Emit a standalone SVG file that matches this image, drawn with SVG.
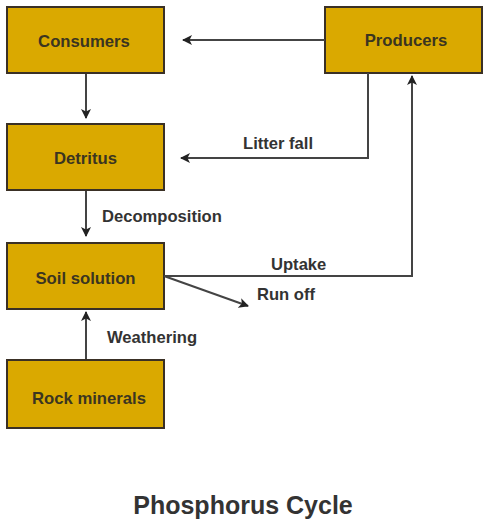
<svg xmlns="http://www.w3.org/2000/svg" width="487" height="521" viewBox="0 0 487 521">
<style>
.box{fill:#DAA900;stroke:#3a3025;stroke-width:2}
.bt{font-family:"Liberation Sans",Arial,sans-serif;font-weight:bold;font-size:16.7px;fill:#3b3520;text-anchor:middle}
.lb{font-family:"Liberation Sans",Arial,sans-serif;font-weight:bold;font-size:16.6px;fill:#333}
.ln{fill:none;stroke:#444;stroke-width:2}
</style>
<defs>
<marker id="ah" markerWidth="10" markerHeight="10" refX="9" refY="5" orient="auto" markerUnits="userSpaceOnUse">
<path d="M0,0 L10,5 L0,10 L2.5,5 Z" fill="#222"/>
</marker>
</defs>
<rect width="487" height="521" fill="#fff"/>
<g id="consumers"><rect class="box" x="7" y="7" width="157" height="66"/><text class="bt" x="84" y="47">Consumers</text></g>
<g id="producers"><rect class="box" x="325" y="7" width="157" height="66"/><text class="bt" x="406" y="46">Producers</text></g>
<g id="detritus"><rect class="box" x="7" y="124" width="157" height="66"/><text class="bt" x="85.5" y="164">Detritus</text></g>
<g id="soil"><rect class="box" x="7" y="243" width="157" height="66"/><text class="bt" x="85.5" y="284">Soil solution</text></g>
<g id="rock"><rect class="box" x="7" y="360" width="157" height="68"/><text class="bt" x="89" y="404">Rock minerals</text></g>
<g id="connectors">
<line class="ln" x1="325" y1="40" x2="183" y2="40" marker-end="url(#ah)"/>
<line class="ln" x1="86" y1="74" x2="86" y2="118" marker-end="url(#ah)"/>
<polyline class="ln" points="368,73 368,158 181,158" marker-end="url(#ah)"/>
<line class="ln" x1="86" y1="191" x2="86" y2="236" marker-end="url(#ah)"/>
<polyline class="ln" points="164,276 412,276 412,76" marker-end="url(#ah)"/>
<line class="ln" x1="164" y1="276" x2="248" y2="306" marker-end="url(#ah)"/>
<line class="ln" x1="86" y1="359" x2="86" y2="312" marker-end="url(#ah)"/>
<text class="lb" x="243" y="149">Litter fall</text>
<text class="lb" x="102" y="222">Decomposition</text>
<text class="lb" x="271" y="270">Uptake</text>
<text class="lb" x="257" y="300">Run off</text>
<text class="lb" x="107" y="343">Weathering</text>
</g>
<text x="243" y="514" font-family="'Liberation Sans',Arial,sans-serif" font-weight="bold" font-size="25" fill="#333" text-anchor="middle">Phosphorus Cycle</text>
</svg>
